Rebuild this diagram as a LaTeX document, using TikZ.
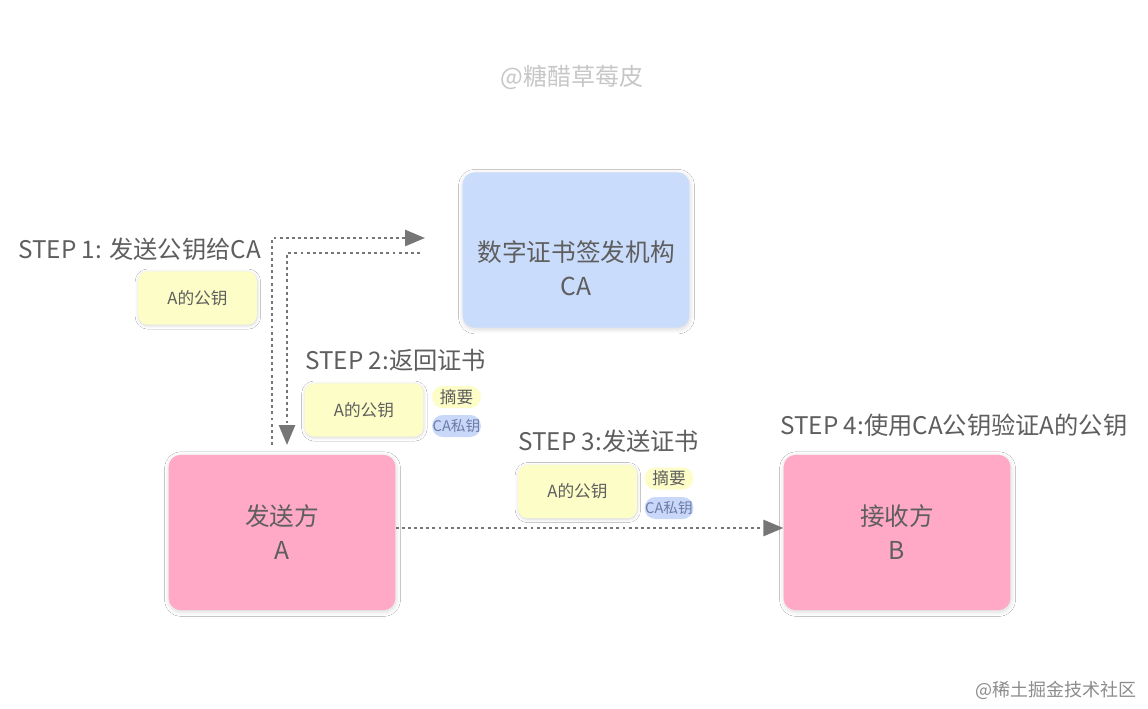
\documentclass[tikz,border=0pt]{standalone}
\usepackage{fontspec}
\setmainfont{Noto Sans CJK SC}
\usetikzlibrary{arrows.meta,shadows.blur}
\definecolor{txt}{HTML}{5E5E5E}
\definecolor{pinkbox}{HTML}{FFA9C7}
\definecolor{bluebox}{HTML}{CADCFB}
\definecolor{yelbox}{HTML}{FDFDC8}
\definecolor{bluepill}{HTML}{C9D8F8}
\definecolor{pilltext}{HTML}{6A7BA8}
\definecolor{arrowc}{HTML}{767676}
\tikzset{
  softshadow/.style={blur shadow={shadow xshift=0.4pt, shadow yshift=-1.2pt, shadow blur steps=10, shadow opacity=16, shadow blur radius=3.5pt}},
  bigbox/.style={rounded corners=9pt, draw=none, text=txt, align=center,
    font=\fontsize{18.5}{25.5}\selectfont, minimum width=170pt, minimum height=116.5pt, softshadow},
  boxtext/.style={text=txt, align=center, font=\fontsize{18.5}{25.5}\selectfont},
  keybox/.style={rounded corners=7pt, fill=yelbox, text=txt, font=\fontsize{12.5}{14}\selectfont,
    minimum width=89pt, minimum height=40pt,
    blur shadow={shadow xshift=0.3pt, shadow yshift=-0.8pt, shadow blur steps=8, shadow opacity=16, shadow blur radius=2.5pt}},
  pill/.style={rounded corners=8pt, text=txt, inner sep=0pt, font=\fontsize{12.5}{14}\selectfont,
    minimum width=36.5pt, minimum height=16.5pt},
  steplabel/.style={text=txt, font=\fontsize{18.2}{20}\selectfont, inner sep=0pt},
  dotline/.style={draw=arrowc, line width=2pt, dash pattern=on 2.2pt off 2.4pt,
    -{Triangle[length=15pt,width=12pt,fill=arrowc]}}
}
\begin{document}
\begin{tikzpicture}[x=0.75pt,y=-0.75pt]
\useasboundingbox (0,0) rectangle (1148,709);
\fill[white] (0,0) rectangle (1148,709);
% watermarks
\node[text=black!22, font=\fontsize{18}{20}\selectfont] (wm) at (572,77) {@糖醋草莓皮};
\node[text=black!45, font=\fontsize{13.5}{16}\selectfont, anchor=east] (jj) at (1141,690) {@稀土掘金技术社区};
% main boxes
\node[bigbox, fill=bluebox, label={[boxtext, yshift=-14pt]center:数字证书签发机构\\CA}] (ca) at (576,250) {};
\node[bigbox, fill=pinkbox] (a) at (282,532.5) {发送方\\A};
\node[bigbox, fill=pinkbox] (b) at (897,532.5) {接收方\\B};
% step 1
\node[steplabel, anchor=west] (s1) at (18,249) {STEP 1: 发送公钥给CA};
\node[keybox] (k1) at (197.5,298) {A的公钥};
% step 2
\node[steplabel, anchor=west] (s2) at (305,360) {STEP 2:返回证书};
\node[keybox] (k2) at (364,410) {A的公钥};
\node[pill, fill=yelbox] (d2) at (456.5,397) {摘要};
\node[pill, fill=bluepill, font=\fontsize{11}{12}\selectfont, text=pilltext] (c2) at (456.5,426) {CA私钥};
% step 3
\node[steplabel, anchor=west] (s3) at (518,441) {STEP 3:发送证书};
\node[keybox] (k3) at (577.5,491.5) {A的公钥};
\node[pill, fill=yelbox] (d3) at (669,478.5) {摘要};
\node[pill, fill=bluepill, font=\fontsize{11}{12}\selectfont, text=pilltext] (c3) at (669,508) {CA私钥};
% step 4
\node[steplabel, anchor=west] (s4) at (780,425) {STEP 4:使用CA公钥验证A的公钥};
% connectors
\coordinate (p1s) at (272,445);
\coordinate (p1e) at (425,238);
\coordinate (p2s) at (420,253);
\coordinate (p2e) at (287,445);
\draw[dotline] (p1s) |- (p1e);
\draw[dotline] (p2s) -| (p2e);
\draw[dotline] (a.east |- 0,528) -- (b.west |- 0,528);
\end{tikzpicture}
\end{document}
